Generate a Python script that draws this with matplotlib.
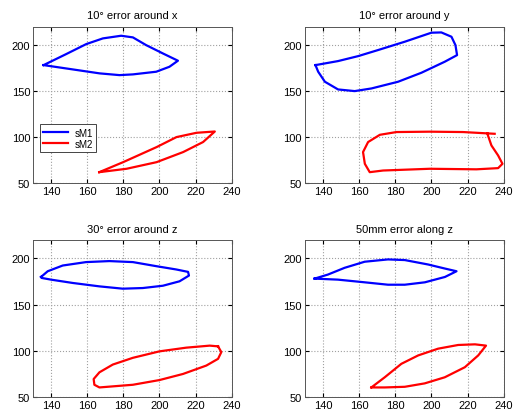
import numpy as np
import matplotlib
matplotlib.use('Agg')
import matplotlib.pyplot as plt

plt.rcParams['font.family'] = ['Liberation Sans', 'DejaVu Sans']

titles = ['10° error around x', '10° error around y',
          '30° error around z', '50mm error along z']

# sM1 / sM2 trajectories (x, y) for each panel
sM1_x = [
    [135.9, 148.4, 159.5, 168.7, 178.8, 185.3, 192.6, 201.9, 210.2,
     205.5, 198.2, 185.3, 177.9, 166.9, 152.1, 135.9],
    [135.9, 148.4, 159.5, 170.5, 185.3, 200, 205.5, 211.1, 213.3, 214.2,
     207.4, 194.5, 181.6, 166.9, 157.6, 148.4, 141.1, 137.4, 135.9],
    [134.5, 138.2, 146.5, 159.4, 172.3, 185.3, 198.2, 209.3, 215.8, 216.3,
     211.1, 201.9, 190.8, 179.7, 166.8, 152, 140, 135, 134.5],
    [135.4, 142.8, 152, 163.1, 176, 185.3, 198.2, 207.5, 213.9,
     207.5, 196.4, 185.3, 176, 163.1, 148.3, 135.4],
]
sM1_y = [
    [178.2, 190.2, 201.1, 207.3, 210.2, 208.4, 200, 190.9, 183,
     176.4, 171, 168.1, 167.3, 169.2, 173.5, 178.2],
    [178.2, 182.6, 188, 194.6, 203.7, 213.5, 213.8, 209.1, 200, 189.1,
     181.9, 169.9, 160.1, 152.8, 149.9, 151.7, 160.1, 171, 178.2],
    [179.9, 186.1, 192.3, 196, 197.1, 196, 191.6, 188, 185.4, 181.4,
     175.2, 170.4, 167.9, 167.2, 169.7, 173.4, 177, 178.8, 179.9],
    [178.1, 182.5, 189.8, 196.4, 198.9, 198.2, 193.4, 189, 186.1,
     179.9, 174.1, 171.5, 171.5, 174.1, 177, 178.1],
]
sM2_x = [
    [166.7, 179.9, 198.4, 209.4, 220.5, 230.6, 224.1, 213.1, 198.4, 181.8, 166.7],
    [235, 217.5, 199.1, 180.7, 171.5, 165, 162.2, 163.2, 165.9, 173.3, 199.1,
     224.9, 236.9, 239.3, 236.9, 233.2, 231.3, 231],
    [232.4, 234.2, 232.4, 225.9, 213, 200, 185.3, 166.8, 164, 163.6, 166.8,
     174.2, 185.3, 200, 214.8, 227.8, 232.4],
    [166.8, 174.2, 183.4, 192.7, 203.7, 214.8, 224.1, 230.2,
     225.9, 218.5, 207.4, 196.3, 185.3, 174.2, 166.8],
]
sM2_y = [
    [61.6, 72.5, 88.9, 99.8, 104.5, 105.9, 94.4, 83.5, 72.5, 65.3, 61.6],
    [103.4, 105.3, 105.7, 105.3, 102.3, 94.4, 83.5, 70.7, 61.6, 63.4, 65.3,
     64.7, 66, 70.7, 79.8, 90.7, 101.5, 103.7],
    [104.7, 98.5, 91.2, 83.9, 74.8, 68.2, 63.1, 60.2, 63.1, 69.3, 76.6,
     85, 92.3, 99.3, 103.3, 105.5, 104.7],
    [60.2, 71.2, 85.8, 94.9, 102.2, 106.2, 106.9, 105.5,
     94.9, 82.1, 71.2, 64.6, 60.9, 60.2, 60.2],
]

xticks = [140, 160, 180, 200, 220, 240]
yticks = [50, 100, 150, 200]

fig = plt.figure(figsize=(5.14, 4.14), dpi=100)
boxes = [[0.064, 0.556, 0.387, 0.377], [0.593, 0.556, 0.387, 0.377],
         [0.064, 0.039, 0.387, 0.379], [0.593, 0.039, 0.387, 0.379]]

for i in range(4):
    ax = fig.add_axes(boxes[i])
    ax.plot(sM1_x[i], sM1_y[i], color='#0000ff', lw=1.6, label='sM1', solid_joinstyle='round')
    ax.plot(sM2_x[i], sM2_y[i], color='#ff0000', lw=1.6, label='sM2', solid_joinstyle='round')
    ax.set_xlim(130, 240)
    ax.set_ylim(50, 220)
    ax.set_xticks(xticks)
    ax.set_yticks(yticks)
    ax.grid(True, linestyle=':', color='#a0a0a0', lw=0.8)
    ax.tick_params(direction='in', labelsize=8, length=3, top=True, right=True, pad=2)
    for s in ax.spines.values():
        s.set_color('#555555')
        s.set_linewidth(0.7)
    ax.set_title(titles[i], fontsize=8, pad=6)
    if i == 0:
        leg = ax.legend(loc='center left', bbox_to_anchor=(0.01, 0.285), fontsize=7,
                        fancybox=False, framealpha=1, edgecolor='#444444',
                        handlelength=2.6, handletextpad=0.6, borderpad=0.35,
                        labelspacing=0.1)
        leg.get_frame().set_linewidth(0.7)

fig.savefig('out.png', dpi=100)
